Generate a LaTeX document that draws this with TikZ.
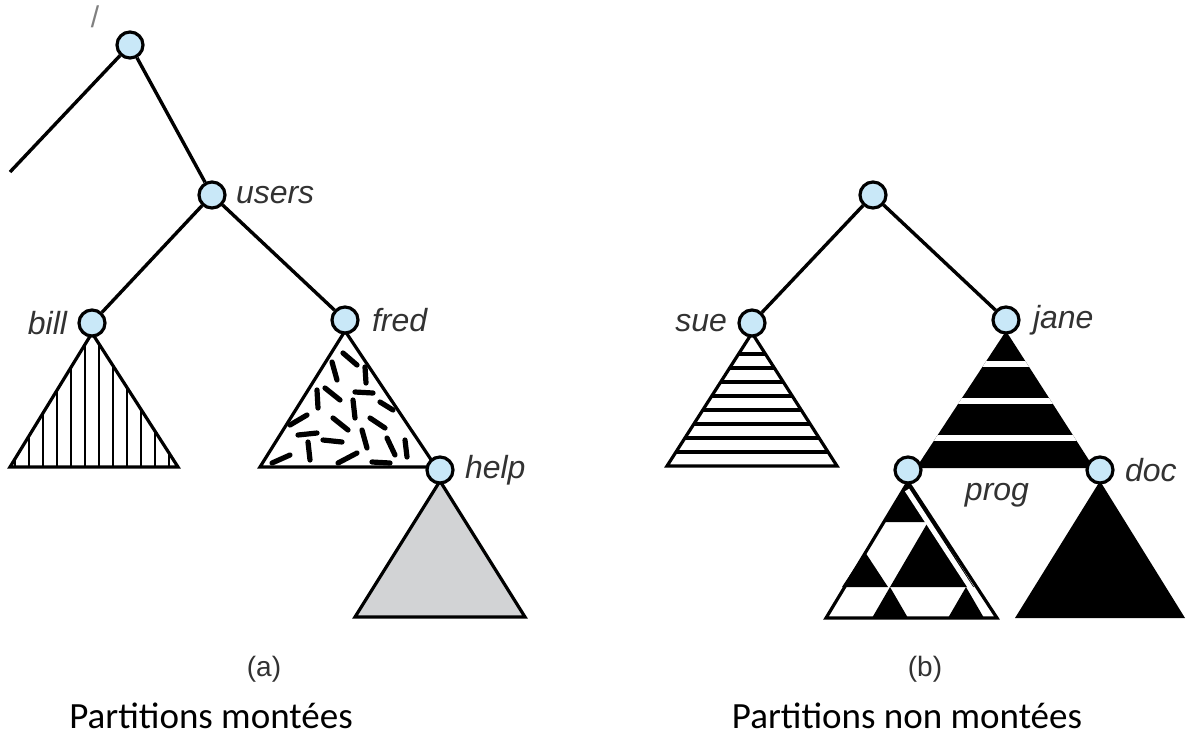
\documentclass[tikz,border=0pt]{standalone}
\usepackage{fontspec}
\setsansfont{Liberation Sans}
\newfontfamily\capfont{Carlito}
\usepackage{tikz}
\usetikzlibrary{positioning}
\definecolor{dirblue}{RGB}{201,232,248}
\definecolor{helpgray}{RGB}{210,211,213}
\definecolor{inkgray}{RGB}{50,50,50}
\tikzset{
  dirnode/.style={circle, draw=black, fill=dirblue, line width=1.6pt,
    minimum size=13pt, inner sep=0pt},
  link/.style={line width=1.7pt, black},
  dirlabel/.style={font=\sffamily\itshape\fontsize{16}{16}\selectfont,
    text=inkgray, inner sep=2pt},
  tri/.style={line width=1.6pt, line join=miter},
  hatch/.style={line width=1.2pt},
  splinter/.style={line width=2.6pt, line cap=round},
  sublabel/.style={font=\sffamily\fontsize{14}{14}\selectfont, text=inkgray},
  caption/.style={font=\capfont\fontsize{18.5}{18.5}\selectfont}
}

\begin{document}
\begin{tikzpicture}[x=0.5pt,y=-0.5pt]
\useasboundingbox (0,0) rectangle (1188,740);
% (a) mounted
% bill: vertical hatching
\begin{scope}
  \clip (92,333) -- (10,467) -- (178,467) -- cycle;
  \foreach \dx in {-77,-63,...,77}
    \draw[hatch] (92+\dx,330) -- (92+\dx,470);
\end{scope}
\draw[tri] (92,333) -- (10,467) -- (178,467) -- cycle;
% fred: scattered dashes
\foreach \a/\b/\c/\d in {343/353/357/365, 332/362/337/380, 365/367/366/383,
    317/390/318/408, 325/388/340/400, 355/392/373/393, 353/400/355/418,
    380/402/393/410, 290/425/307/415, 333/418/348/430, 370/418/385/428,
    298/435/317/433, 323/440/342/442, 308/442/310/460, 362/430/367/448,
    387/438/395/455, 405/440/407/457, 272/463/290/455, 338/463/357/453,
    372/462/390/463}
  \draw[splinter] (\a,\b) -- (\c,\d);
\draw[tri] (345,331) -- (260,467) -- (436,467) -- cycle;
% help: grey
\draw[tri, fill=helpgray] (440,481) -- (355,617) -- (525,617) -- cycle;

% (b) not mounted
% sue: horizontal hatching
\begin{scope}
  \clip (752,333) -- (667,466) -- (837,466) -- cycle;
  \foreach \yy in {354,368,...,452}
    \draw[tri] (660,\yy) -- (845,\yy);
\end{scope}
\draw[tri] (752,333) -- (667,466) -- (837,466) -- cycle;
% jane: black with white bands
\begin{scope}
  \clip (1006,331) -- (916,468) -- (1094,468) -- cycle;
  \fill[black] (900,320) rectangle (1110,470);
  \foreach \yy in {364,401,438}
    \draw[white, line width=2.6pt] (900,\yy) -- (1110,\yy);
\end{scope}
% prog: checkered
\fill[black] (908,482) -- (883,522) -- (933,522) -- cycle;
\fill[black] (928,522) -- (933,522) -- (974,587) -- (890,587) -- cycle;
\fill[black] (865,552) -- (888,587) -- (842,587) -- cycle;
\fill[black] (890,587) -- (908,618) -- (872,618) -- cycle;
\fill[black] (966,587) -- (984,618) -- (948,618) -- cycle;
\draw[white, line width=2.5pt] (907,490) -- (989,616);
\draw[tri] (908,482) -- (826,618) -- (997,618) -- cycle;
% doc: black
\fill[black] (1100,481) -- (1015,618) -- (1185,618) -- cycle;

% directories
\node[dirnode] (root) at (130,45) {};
\node[dirnode] (users) at (212,195) {};
\node[dirnode] (bill) at (92,323) {};
\node[dirnode] (fred) at (345,320) {};
\node[dirnode] (help) at (440,470) {};
\node[dirnode] (root2) at (873,195) {};
\node[dirnode] (sue) at (752,323) {};
\node[dirnode] (jane) at (1006,320) {};
\node[dirnode] (prog) at (908,470) {};
\node[dirnode] (doc) at (1100,470) {};
\coordinate (cut) at (10,172);

\draw[link] (root) -- (cut);
\draw[link] (root) -- (users);
\draw[link] (users) -- (bill);
\draw[link] (users) -- (fred);
\draw[link] (root2) -- (sue);
\draw[link] (root2) -- (jane);

% names
\node[sublabel, font=\sffamily\fontsize{15}{15}\selectfont, text=gray] (slash) at (95,17) {/};
\node[dirlabel, right=2.5pt of users] (usersname) {users};
\node[dirlabel, left=3pt of bill] (billname) {bill};
\node[dirlabel, right=4pt of fred] (fredname) {fred};
\node[dirlabel, right=3pt of help] (helpname) {help};
\node[dirlabel, left=3pt of sue] (suename) {sue};
\node[dirlabel, right=4pt of jane] (janename) {jane};
\node[dirlabel, right=3pt of doc] (docname) {doc};
\node[dirlabel] (progname) at (997,495) {prog};

\node[sublabel] (suba) at (264,669) {(a)};
\node[sublabel] (subb) at (925,669) {(b)};
\node[caption] (capa) at (211,716) {Partitions montées};
\node[caption] (capb) at (907,716) {Partitions non montées};
\end{tikzpicture}
\end{document}
